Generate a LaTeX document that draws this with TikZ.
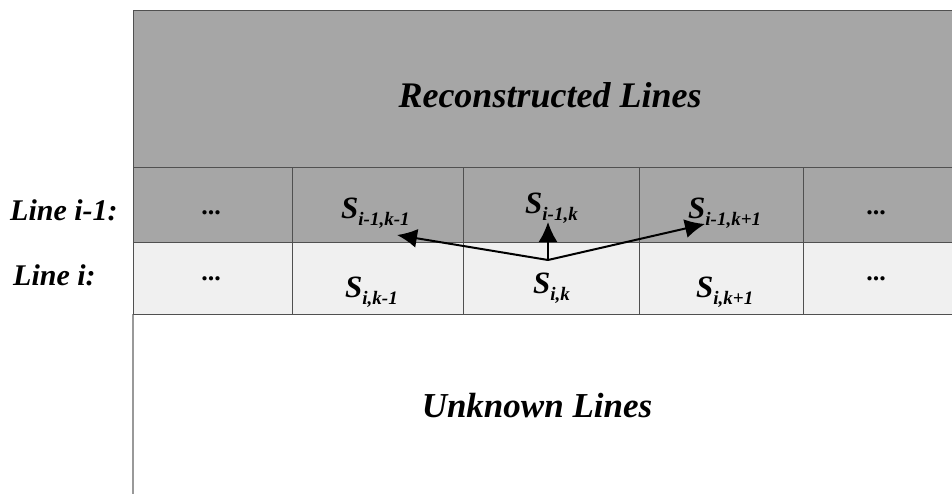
\documentclass[tikz,border=0pt]{standalone}
\usepackage{fontspec}
\setmainfont{Liberation Serif}
\usetikzlibrary{arrows.meta}
\definecolor{darkcell}{HTML}{A6A6A6}
\definecolor{lightcell}{HTML}{F0F0F0}
\definecolor{gridline}{HTML}{505050}
\newcommand\subx[1]{\raisebox{-0.25em}{\fontsize{19}{19}\selectfont #1}}
\tikzset{
  cell/.style={draw=gridline, line width=0.8pt, anchor=north west, inner sep=0pt, outer sep=0pt},
  big/.style={font=\fontsize{36}{36}\selectfont\bfseries\itshape, anchor=base, inner sep=0pt},
  rowlab/.style={font=\fontsize{30}{30}\selectfont\bfseries\itshape, anchor=base west, inner sep=0pt},
  sym/.style={font=\fontsize{31}{31}\selectfont\bfseries\itshape, anchor=base west, inner sep=0pt},
  dots/.style={font=\fontsize{26}{26}\selectfont\bfseries, anchor=base, inner sep=0pt},
  arr/.style={line width=2pt, -{Latex[length=20pt,width=19pt]}}
}
\begin{document}
\begin{tikzpicture}[x=1pt,y=-1pt]
\useasboundingbox (0,0) rectangle (952,493);
\begin{scope}
\clip (0,0) rectangle (952,493);
% top region
\node[cell, fill=darkcell, minimum width=830pt, minimum height=157pt] (top) at (133,10) {};
% unknown region
\node[cell, draw=none, fill=white, minimum width=830pt, minimum height=190pt] (bottom) at (133,314) {};
\draw[draw=black!40, line width=1.6pt] (bottom.north west) -- (bottom.south west);
% row i-1
\node[cell, fill=darkcell, minimum width=159pt, minimum height=75pt] (a1) at (133,167) {};
\node[cell, fill=darkcell, minimum width=171pt, minimum height=75pt] (a2) at (292,167) {};
\node[cell, fill=darkcell, minimum width=176pt, minimum height=75pt] (a3) at (463,167) {};
\node[cell, fill=darkcell, minimum width=164pt, minimum height=75pt] (a4) at (639,167) {};
\node[cell, fill=darkcell, minimum width=170pt, minimum height=75pt] (a5) at (803,167) {};
% row i
\node[cell, fill=lightcell, minimum width=159pt, minimum height=72pt] (b1) at (133,242) {};
\node[cell, fill=lightcell, minimum width=171pt, minimum height=72pt] (b2) at (292,242) {};
\node[cell, fill=lightcell, minimum width=176pt, minimum height=72pt] (b3) at (463,242) {};
\node[cell, fill=lightcell, minimum width=164pt, minimum height=72pt] (b4) at (639,242) {};
\node[cell, fill=lightcell, minimum width=170pt, minimum height=72pt] (b5) at (803,242) {};
\end{scope}
% titles
\node[big] (rl) at (550,107) {Reconstructed Lines};
\node[big, font=\fontsize{35}{35}\selectfont\bfseries\itshape] (ul) at (537,417) {Unknown Lines};
% row labels
\node[rowlab] (l1) at (10,220) {Line i-1:};
\node[rowlab] (l2) at (13,285) {Line i:};
% cell texts
\node[dots] (d1) at (211,214) {...};
\node[sym] (s1) at (341,218) {S\subx{i-1,k-1}};
\node[sym] (s2) at (525,213) {S\subx{i-1,k}};
\node[sym] (s3) at (688,218) {S\subx{i-1,k+1}};
\node[dots] (d2) at (876,214) {...};
\node[dots] (d3) at (211,280) {...};
\node[sym] (t1) at (345,297) {S\subx{i,k-1}};
\node[sym] (t2) at (533,293) {S\subx{i,k}};
\node[sym] (t3) at (696,297) {S\subx{i,k+1}};
\node[dots] (d4) at (876,280) {...};
% arrows
\coordinate (o) at (548,260);
\coordinate (p1) at (397,235);
\coordinate (p2) at (548,222);
\coordinate (p3) at (705,224);
\draw[arr] (o) -- (p1);
\draw[arr] (o) -- (p2);
\draw[arr] (o) -- (p3);
\end{tikzpicture}
\end{document}
